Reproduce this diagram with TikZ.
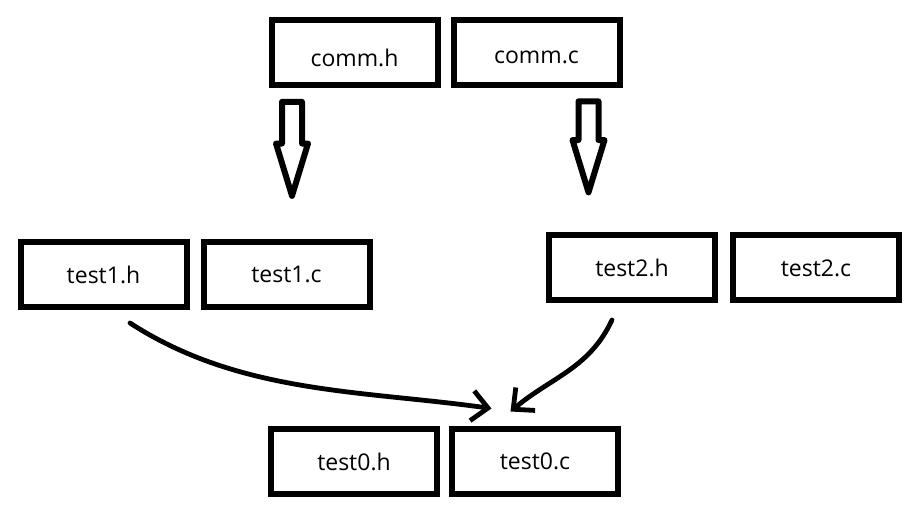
\documentclass[tikz,border=0pt]{standalone}
\usepackage{fontspec}
\setmainfont{Open Sans}
\usetikzlibrary{shapes.arrows, arrows.meta, positioning}

\begin{document}
\begin{tikzpicture}[
    x=0.5pt, y=-0.5pt,
    file/.style={rectangle, draw, line width=3pt, minimum width=83pt, minimum height=32.5pt, inner sep=0pt, font=\fontsize{11.5}{13}\selectfont},
    hollow/.style={single arrow, draw, line width=3pt, line join=round, rotate=-90, inner sep=0pt, inner ysep=3.5pt, minimum height=47pt, single arrow head extend=3pt, single arrow tip angle=34},
    curved/.style={line width=2.4pt, line cap=round, -{Straight Barb[length=8pt, width=15pt]}}
]
    \useasboundingbox (0,0) rectangle (912,507);

    % Nodes
    \node (commh) [file] at (354.5,52.5) {\raisebox{-2.5pt}[\height][\depth]{comm.h}};
    \node (commc) [file, right=5pt of commh] {\raisebox{-2.5pt}[\height][\depth]{comm.c}};

    \node (test1h) [file] at (103.5,274.5) {test1.h};
    \node (test1c) [file, right=5.5pt of test1h] {test1.c};

    \node (test2h) [file] at (632,268) {test2.h};
    \node (test2c) [file, right=6pt of test2h] {test2.c};

    \node (test0h) [file] at (354,461.5) {test0.h};
    \node (test0c) [file, right=4.5pt of test0h] {test0.c};

    % Hollow arrows
    \node (down_h) [hollow] at (292,132.5) {};
    \node (down_c) [hollow, minimum height=45.5pt] at (588.5,130.5) {};

    % Arrows
    \draw [curved] ([xshift=13.25pt, yshift=-6.5pt]test1h.south) to[out=-33, in=172, looseness=0.9] ([xshift=-21.75pt, yshift=8.75pt]test0c.north);
    \draw [curved] ([xshift=-10pt, yshift=-8.25pt]test2h.south) to[out=-115, in=40] ([xshift=-12.25pt, yshift=7.25pt]test0c.north);

\end{tikzpicture}
\end{document}
